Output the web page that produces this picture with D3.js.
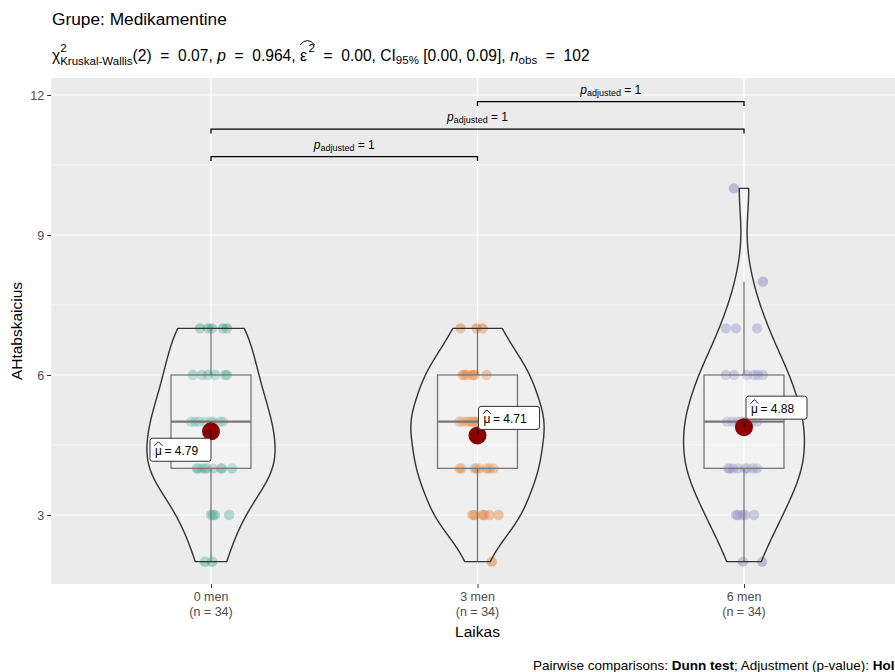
<!DOCTYPE html>
<html><head><meta charset="utf-8">
<script src="https://cdn.jsdelivr.net/npm/d3@7"></script>
<style>
body{margin:0;background:#fff}
svg{display:block;font-family:"Liberation Sans",Arial,Helvetica,sans-serif}
text{white-space:pre}
</style>
</head><body>
<svg id="c" width="895" height="672"></svg>
<script>
// ---------------- data ----------------
const categories = ["0 men", "3 men", "6 men"];
const nLabels = ["(n = 34)", "(n = 34)", "(n = 34)"];
const values0 = [7,7,7,7,7, 6,6,6,6,6,6, 5,5,5,5,5,5,5,5, 4,4,4,4,4,4,4,4,4, 3,3,3,3, 2,2];
const jitter0 = [-4.1,-1.1,0.4,4.5,6.0, -6.8,-3.4,-1.1,1.5,5.3,6.0, -7.5,-6.0,-4.5,-2.3,0,0.8,3.4,4.5, -5.3,-4.9,-3.4,-2.3,-1.5,0.8,3.8,4.1,7.9, 0,0.8,1.5,6.8, -2.3,0.4];
const values1 = [7,7,7, 6,6,6,6,6,6,6, 5,5,5,5,5,5,5,5,5, 4,4,4,4,4,4,4,4, 3,3,3,3,3,3, 2];
const jitter1 = [-6.4,-0.4,1.9, -5.6,-4.9,-4.1,-2.3,-1.5,-1.1,3.4, -6.8,-5.6,-4.1,-3.0,-2.3,-1.5,-1.1,-0.4,0.4, -6.8,-6.0,-1.1,-0.4,0.8,3.4,4.5,6.0, -1.9,-1.1,1.9,2.6,4.5,7.9, 5.3];
const values2 = [10, 8, 7,7,7, 6,6,6,6,6,6, 5,5,5,5,5,5,5,5, 4,4,4,4,4,4,4,4, 3,3,3,3,3, 2,2];
const jitter2 = [-3.8, 7.1, -6.8,-3.0,4.9, -6.8,-3.8,1.1,3.8,5.3,7.1, -6.4,-4.5,-2.6,-1.1,0,0.8,3.0,4.9, -6.0,-5.3,-4.1,-2.3,0.4,1.1,3.4,4.9, -3.0,-2.3,-0.8,0.4,3.8, -0.4,6.8];
const yTicks = [3, 6, 9, 12];
const yMinorTicks = [4.5, 7.5, 10.5];
const comparisons = [[0, 1], [0, 2], [1, 2]];
const pAdjusted = ["1", "1", "1"];
const colors = ["#1B9E77", "#D95F02", "#7570B3"];

const groups = [values0, values1, values2];
const jitters = [jitter0, jitter1, jitter2];

// ---------------- layout ----------------
const svg = d3.select("#c");
const panelTop = 78, panelBottom = 584;
const x = d3.scalePoint().domain(categories).range([211, 744]);
const step = x.step();
const panelLeft = x(categories[0]) - 0.6 * step;
const panelRight = x(categories[2]) + 0.6 * step;
const y = d3.scaleLinear().domain([3, 12]).range([515, 95]);

svg.append("rect").attr("x", panelLeft).attr("y", panelTop)
  .attr("width", panelRight - panelLeft).attr("height", panelBottom - panelTop)
  .attr("fill", "#EBEBEB");

const grid = svg.append("g");
grid.selectAll(".ymin").data(yMinorTicks).join("line")
  .attr("x1", panelLeft).attr("x2", panelRight)
  .attr("y1", d => y(d)).attr("y2", d => y(d))
  .attr("stroke", "#fff").attr("stroke-width", 0.6);
grid.selectAll(".ymaj").data(yTicks).join("line")
  .attr("x1", panelLeft).attr("x2", panelRight)
  .attr("y1", d => y(d)).attr("y2", d => y(d))
  .attr("stroke", "#fff").attr("stroke-width", 1.2);
grid.selectAll(".xmaj").data(categories).join("line")
  .attr("x1", d => x(d)).attr("x2", d => x(d))
  .attr("y1", panelTop).attr("y2", panelBottom)
  .attr("stroke", "#fff").attr("stroke-width", 1.2);

// axes
const yAxis = d3.axisLeft(y).tickValues(yTicks).tickSize(4).tickPadding(3);
const gy = svg.append("g").attr("transform", `translate(${panelLeft},0)`).call(yAxis);
gy.select(".domain").remove();
gy.selectAll(".tick line").attr("stroke", "#333").attr("stroke-width", 1);
gy.selectAll(".tick text").attr("fill", "#4D4D4D").attr("font-size", 12.5)
  .attr("font-family", '"Liberation Sans",Arial,sans-serif');

const xAxis = d3.axisBottom(x).tickSize(4).tickFormat(() => "");
const gx = svg.append("g").attr("transform", `translate(0,${panelBottom})`).call(xAxis);
gx.select(".domain").remove();
gx.selectAll(".tick line").attr("stroke", "#333").attr("stroke-width", 1);
const xl = svg.append("g");
categories.forEach((c, i) => {
  const t = xl.append("text").attr("x", x(c)).attr("text-anchor", "middle")
    .attr("fill", "#4D4D4D").attr("font-size", 12.5);
  t.append("tspan").attr("x", x(c)).attr("y", 601).text(c);
  t.append("tspan").attr("x", x(c)).attr("y", 615.5).text(nLabels[i]);
});

svg.append("text").attr("x", x(categories[1])).attr("y", 637)
  .attr("text-anchor", "middle").attr("font-size", 15.5).attr("fill", "#000").text("Laikas");
svg.append("text").attr("transform", `translate(22,${(panelTop + panelBottom) / 2}) rotate(-90)`)
  .attr("text-anchor", "middle").attr("font-size", 15.5).attr("fill", "#000").text("AHtabskaicius");

// ---------------- marks ----------------
const marks = svg.append("g");

groups.forEach((vals, gi) => {
  marks.append("g").selectAll("circle").data(vals).join("circle")
    .attr("cx", (d, j) => x(categories[gi]) + jitters[gi][j] / 100 * step)
    .attr("cy", d => y(d))
    .attr("r", 5.2)
    .attr("fill", colors[gi]).attr("fill-opacity", 0.4);
});

const boxHalf = 0.15 * step;
groups.forEach((vals, gi) => {
  const s = vals.slice().sort(d3.ascending);
  const q1 = d3.quantileSorted(s, 0.25), med = d3.quantileSorted(s, 0.5), q3 = d3.quantileSorted(s, 0.75);
  const iqr = q3 - q1;
  const lo = d3.min(s.filter(v => v >= q1 - 1.5 * iqr));
  const hi = d3.max(s.filter(v => v <= q3 + 1.5 * iqr));
  const cx = x(categories[gi]);
  const g = marks.append("g").attr("stroke", "#555").attr("stroke-width", 1.3);
  g.append("line").attr("x1", cx).attr("x2", cx).attr("y1", y(hi)).attr("y2", y(q3));
  g.append("line").attr("x1", cx).attr("x2", cx).attr("y1", y(q1)).attr("y2", y(lo));
  g.append("rect").attr("x", cx - boxHalf).attr("y", y(q3))
    .attr("width", 2 * boxHalf).attr("height", y(q1) - y(q3))
    .attr("fill", "#fff").attr("fill-opacity", 0.2);
  g.append("line").attr("x1", cx - boxHalf).attr("x2", cx + boxHalf)
    .attr("y1", y(med)).attr("y2", y(med)).attr("stroke-width", 2.4);
});

function bwNrd0(v) {
  const s = v.slice().sort(d3.ascending);
  const sd = d3.deviation(s);
  const iqr = d3.quantileSorted(s, 0.75) - d3.quantileSorted(s, 0.25);
  let lo = Math.min(sd, iqr / 1.34);
  if (!lo) lo = sd || Math.abs(s[0]) || 1;
  return 0.9 * lo * Math.pow(s.length, -0.2);
}
const dens = groups.map(vals => {
  const bw = bwNrd0(vals);
  const mn = d3.min(vals), mx = d3.max(vals);
  return d3.range(512).map(k => {
    const t = mn + (mx - mn) * k / 511;
    const d = d3.sum(vals, v => Math.exp(-0.5 * ((t - v) / bw) ** 2)) / (vals.length * bw * Math.sqrt(2 * Math.PI));
    return [t, d];
  });
});
const maxD = d3.max(dens, p => d3.max(p, d => d[1]));
const violinHalf = 0.25 * step;
dens.forEach((pts, gi) => {
  const cx = x(categories[gi]);
  const area = d3.area()
    .y(d => y(d[0]))
    .x0(d => cx - d[1] / maxD * violinHalf)
    .x1(d => cx + d[1] / maxD * violinHalf);
  marks.append("path").attr("d", area(pts))
    .attr("fill", "#fff").attr("fill-opacity", 0.2)
    .attr("stroke", "#333").attr("stroke-width", 1.4).attr("stroke-linejoin", "round");
});

// mean points and labels
const means = groups.map(v => d3.mean(v));
const labelOffsets = [[-61, 7], [1, -29], [2, -31]];
const fmt = d3.format(".2f");
means.forEach((m, gi) => {
  const cx = x(categories[gi]), cy = y(m);
  const [ox, oy] = labelOffsets[gi];
  const bx = cx + ox, by = cy + oy, bw = 61, bh = 23;
  const tx = Math.max(bx, Math.min(cx, bx + bw)), ty = Math.max(by, Math.min(cy, by + bh));
  marks.append("circle").attr("cx", cx).attr("cy", cy).attr("r", 9).attr("fill", "#8B0000");
  marks.append("line").attr("x1", cx).attr("y1", cy).attr("x2", tx).attr("y2", ty)
    .attr("stroke", "#000").attr("stroke-width", 1);
  const lg = marks.append("g");
  lg.append("rect").attr("x", bx).attr("y", by).attr("width", bw).attr("height", bh)
    .attr("rx", 2.5).attr("fill", "#fff").attr("stroke", "#333").attr("stroke-width", 1);
  const t1 = lg.append("text").attr("x", bx + 5).attr("y", by + 16.5).attr("font-size", 12).text("μ");
  const mw = t1.node().getComputedTextLength();
  const hx = bx + 5 + mw / 2;
  lg.append("path").attr("d", `M${hx - 4},${by + 7.5} L${hx},${by + 3.5} L${hx + 4},${by + 7.5}`)
    .attr("fill", "none").attr("stroke", "#000").attr("stroke-width", 0.9);
  lg.append("text").attr("x", bx + 5 + mw + 2.5).attr("y", by + 16.5).attr("font-size", 12)
    .text("= " + fmt(m));
});

// significance brackets
const bracketBase = 10.68, bracketStep = 0.59;
comparisons.forEach(([a, b], i) => {
  const yy = y(bracketBase + i * bracketStep);
  const xa = x(categories[a]), xb = x(categories[b]);
  marks.append("path").attr("d", `M${xa},${yy + 4.5} L${xa},${yy} L${xb},${yy} L${xb},${yy + 4.5}`)
    .attr("fill", "none").attr("stroke", "#000").attr("stroke-width", 1.3);
  const t = marks.append("text").attr("x", (xa + xb) / 2).attr("y", yy - 8)
    .attr("text-anchor", "middle").attr("font-size", 12);
  t.append("tspan").attr("font-style", "italic").text("p");
  t.append("tspan").attr("font-size", 9).attr("dy", 2).text("adjusted");
  t.append("tspan").attr("dy", -2).text(" = " + pAdjusted[i]);
});

// ---------------- title, subtitle, caption ----------------
svg.append("text").attr("x", 52).attr("y", 25).attr("font-size", 17.3).attr("fill", "#000")
  .text("Grupe: Medikamentine");

const sub = svg.append("g");
const base = 61, fs = 15.6, ss = 11.5;
let cx = 52;
function put(str, opts = {}) {
  const t = sub.append("text").attr("x", cx + (opts.dx || 0)).attr("y", base + (opts.dy || 0))
    .attr("font-size", opts.size || fs).attr("fill", "#000").text(str);
  if (opts.italic) t.attr("font-style", "italic");
  const w = t.node().getComputedTextLength();
  if (!opts.noAdvance) cx += w + (opts.dx || 0);
  return w;
}
put("χ");
const w2 = put("2", { size: ss, dy: -9, noAdvance: true });
const wk = put("Kruskal-Wallis", { size: ss, dy: 4, noAdvance: true });
cx += Math.max(w2, wk);
put("(2)  =  0.07, ");
put("p", { italic: true });
put("  =  0.964, ");
const ex0 = cx;
put("ε");
put("2", { size: ss, dy: -9, dx: 1.5 });
const ex1 = cx;
sub.append("path").attr("d", `M${ex0},${base - 16} Q${(ex0 + ex1) / 2},${base - 25} ${ex1},${base - 16}`)
  .attr("fill", "none").attr("stroke", "#000").attr("stroke-width", 1);
put("  =  0.00, CI");
put("95%", { size: ss, dy: 3 });
put(" [0.00, 0.09], ");
put("n", { italic: true });
put("obs", { size: ss, dy: 3 });
put("  =  102");

const cap = svg.append("text").attr("x", 533).attr("y", 670).attr("font-size", 13.5).attr("fill", "#000");
cap.append("tspan").text("Pairwise comparisons: ");
cap.append("tspan").attr("font-weight", "bold").text("Dunn test");
cap.append("tspan").text("; Adjustment (p-value): ");
cap.append("tspan").attr("font-weight", "bold").text("Holm");
</script>
</body></html>
